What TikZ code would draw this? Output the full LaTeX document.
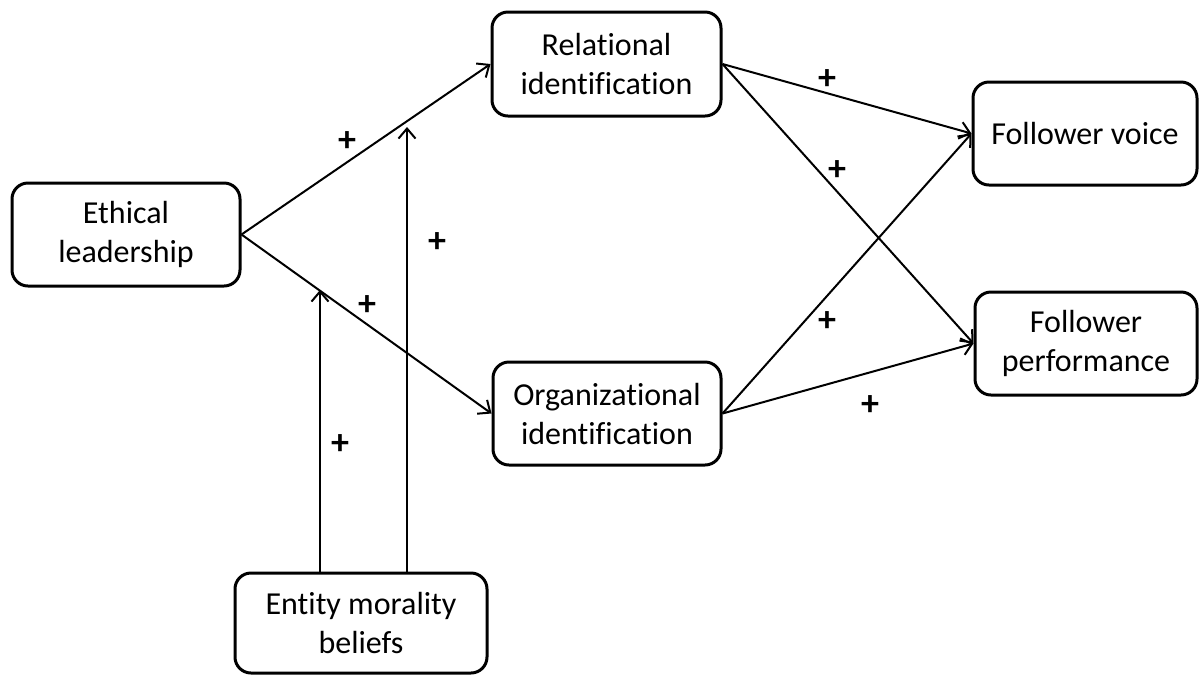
\documentclass[tikz,border=0pt]{standalone}
\usepackage{fontspec}
\setmainfont{Carlito}[Ligatures=NoCommon]
\usetikzlibrary{arrows.meta}
\tikzset{
  boxnode/.style={draw, line width=1.5pt, rounded corners=8pt, align=center,
    inner sep=0pt, font=\fontsize{16}{19.5}\selectfont},
  conn/.style={line width=1pt, -{Straight Barb[length=5pt,width=8.5pt,line width=1pt]}},
  plus/.style={font=\fontsize{18}{18}\selectfont\bfseries, inner sep=0pt}
}
\begin{document}
\begin{tikzpicture}[x=0.5pt,y=-0.5pt]
\useasboundingbox (0,0) rectangle (1200,677);
\node[boxnode, minimum width=114pt, minimum height=51.5pt] (EL) at (126,234.5) {Ethical\\leadership};
\node[boxnode, minimum width=114.5pt, minimum height=52pt] (RI) at (606.5,64) {Relational\\identification};
\node[boxnode, minimum width=114pt, minimum height=51.5pt] (OI) at (607,413.5) {Organizational\\identification};
\node[boxnode, minimum width=112pt, minimum height=51.5pt] (FV) at (1085,133.5) {Follower voice};
\node[boxnode, minimum width=111pt, minimum height=51.5pt] (FP) at (1086,343.5) {Follower\\performance};
\node[boxnode, minimum width=126pt, minimum height=50pt] (EM) at (361,623) {Entity morality\\beliefs};

\draw[conn] (EL.east) -- (RI.west);
\draw[conn] (EL.east) -- (OI.west);
\draw[conn] (RI.east) -- (FV.west);
\draw[conn] (RI.east) -- (FP.west);
\draw[conn] (OI.east) -- (FV.west);
\draw[conn] (OI.east) -- (FP.west);

\coordinate (m1) at (320,290);
\coordinate (m2) at (407,127);
\draw[conn] (EM.north -| m1) -- (m1);
\draw[conn] (EM.north -| m2) -- (m2);

\node[plus] (p1) at (347,142) {+};
\node[plus] (p2) at (367,306) {+};
\node[plus] (p3) at (437,243) {+};
\node[plus] (p4) at (340,445) {+};
\node[plus] (p5) at (827,80) {+};
\node[plus] (p6) at (837,171) {+};
\node[plus] (p7) at (827,322) {+};
\node[plus] (p8) at (870,406) {+};
\end{tikzpicture}
\end{document}
